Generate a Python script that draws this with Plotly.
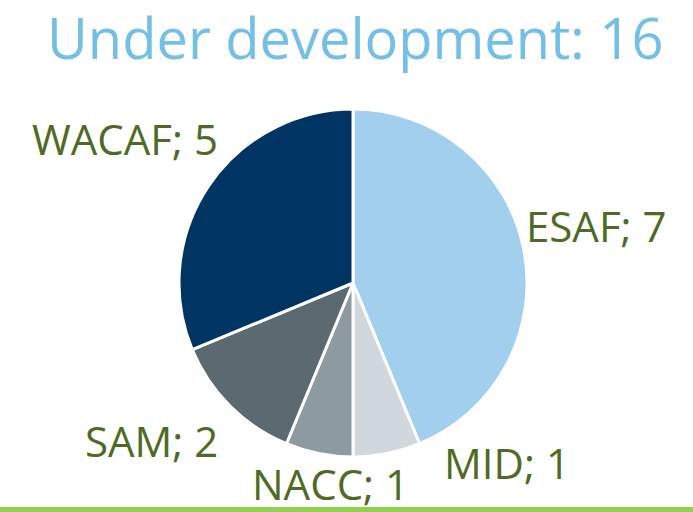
import plotly.graph_objects as go

title_text = "Under development: 16"
regions = ["ESAF", "MID", "NACC", "SAM", "WACAF"]
counts = [7, 1, 1, 2, 5]
slice_colors = ["#A3CFEE", "#D0D8DE", "#8D9AA2", "#5B6970", "#003462"]

W, H = 693, 512
cx, cy, r = 353, 283, 174  # pie centre / radius in pixels

fig = go.Figure(go.Pie(
    labels=regions,
    values=counts,
    sort=False,
    direction="clockwise",
    rotation=0,
    marker=dict(colors=slice_colors, line=dict(color="white", width=3)),
    textinfo="none",
    hoverinfo="label+value",
    showlegend=False,
    domain=dict(x=[(cx - r) / W, (cx + r) / W],
                y=[(H - cy - r) / H, (H - cy + r) / H]),
))

# label anchor positions (pixel centres of the text)
label_pos = {
    "ESAF": (596, 225),
    "MID": (507, 462),
    "NACC": (330, 483),
    "SAM": (151, 440),
    "WACAF": (125, 138),
}
annotations = []
for name, val in zip(regions, counts):
    x, y = label_pos[name]
    annotations.append(dict(
        text=f"{name}; {val}", x=x / W, y=1 - y / H, xref="paper", yref="paper",
        xanchor="center", yanchor="middle", showarrow=False,
        font=dict(family="Open Sans", size=42, color="#4F6A25"),
    ))
annotations.append(dict(
    text=title_text, x=355 / W, y=1 - 37 / H, xref="paper", yref="paper",
    xanchor="center", yanchor="middle", showarrow=False,
    font=dict(family="Open Sans", size=56, color="#74BFE6"),
))

fig.update_layout(
    width=W, height=H,
    margin=dict(l=0, r=0, t=0, b=0),
    paper_bgcolor="white", plot_bgcolor="white",
    annotations=annotations,
    shapes=[dict(type="rect", xref="paper", yref="paper", x0=0, x1=1,
                 y0=0, y1=5 / H, fillcolor="#92D050", line=dict(width=0))],
)
fig.write_html("out.html", config={"displayModeBar": False},
               post_script="document.body.style.margin='0';document.body.style.overflow='hidden';")
